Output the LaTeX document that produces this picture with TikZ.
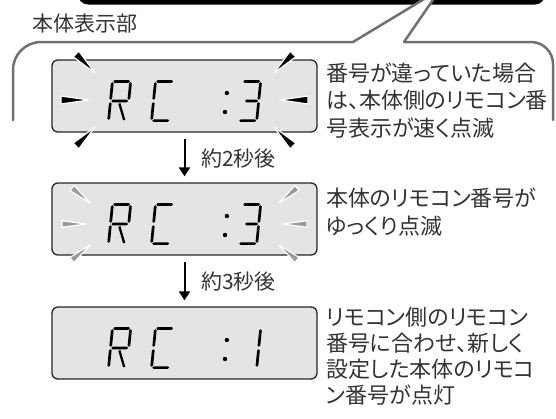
\documentclass[tikz,border=0pt]{standalone}
\usepackage{fontspec}
\newfontfamily\jpfont{Noto Sans CJK JP}
\newfontfamily\jppfont[RawFeature=+palt]{Noto Sans CJK JP}
\usetikzlibrary{arrows.meta,calc}
\definecolor{txt}{HTML}{333333}
\definecolor{lcd}{HTML}{E4E4E4}
\definecolor{bub}{HTML}{707070}
\definecolor{dim}{HTML}{9A9A9A}
\def\sh{1.35}
% horizontal segment: x0 ybot u1 u2 v
\newcommand\lcdh[5]{%
 \fill ({#1+#3+0.1*(#5)},{#2-(#5)}) -- ({#1+#3+\sh+0.1*(#5+\sh)},{#2-(#5)-\sh}) -- ({#1+#4-\sh+0.1*(#5+\sh)},{#2-(#5)-\sh}) -- ({#1+#4+0.1*(#5)},{#2-(#5)}) -- ({#1+#4-\sh+0.1*(#5-\sh)},{#2-(#5)+\sh}) -- ({#1+#3+\sh+0.1*(#5-\sh)},{#2-(#5)+\sh}) -- cycle;}
% vertical segment: x0 ybot u v1 v2
\newcommand\lcdv[5]{%
 \fill ({#1+#3+0.1*(#4)},{#2-(#4)}) -- ({#1+#3+\sh+0.1*(#4+\sh)},{#2-(#4)-\sh}) -- ({#1+#3+\sh+0.1*(#5-\sh)},{#2-(#5)+\sh}) -- ({#1+#3+0.1*(#5)},{#2-(#5)}) -- ({#1+#3-\sh+0.1*(#5-\sh)},{#2-(#5)+\sh}) -- ({#1+#3-\sh+0.1*(#4+\sh)},{#2-(#4)-\sh}) -- cycle;}
\newcommand\digR[2]{%
 \lcdh{#1}{#2}{2.2}{19}{40.6}%
 \lcdv{#1}{#2}{19.6}{22.2}{39.8}%
 \lcdv{#1}{#2}{1.4}{22.2}{39.8}%
 \lcdv{#1}{#2}{1.4}{2.2}{19.8}%
 \lcdh{#1}{#2}{2.2}{19}{21}%
 \draw[line width=2.3pt] ({#1+10.5+0.1*18.5},{#2-18.5}) -- ({#1+17+0.1*2},{#2-2});}
\newcommand\digC[2]{%
 \lcdh{#1}{#2}{2.2}{19}{40.6}%
 \lcdv{#1}{#2}{1.4}{22.2}{39.8}%
 \lcdv{#1}{#2}{1.4}{2.2}{19.8}%
 \lcdh{#1}{#2}{2.2}{19}{1.4}}
\newcommand\digThree[2]{%
 \lcdh{#1}{#2}{2.2}{19}{40.6}%
 \lcdv{#1}{#2}{19.6}{22.2}{39.8}%
 \lcdv{#1}{#2}{19.6}{2.2}{19.8}%
 \lcdh{#1}{#2}{6}{19}{21}%
 \lcdh{#1}{#2}{2.2}{19}{1.4}}
\newcommand\digOne[2]{%
 \lcdv{#1}{#2}{19.6}{22.2}{39.8}%
 \lcdv{#1}{#2}{19.6}{2.2}{19.8}}
\newcommand\lcdcolon[2]{%
 \fill ({#1+0.1*29},{#2-29}) circle[radius=2.2pt];
 \fill ({#1+0.1*10},{#2-10}) circle[radius=2.2pt];}
% flash wedge: outer x,y inner x,y colour halfwidth
\newcommand\wmark[6]{%
 \filldraw[fill=#5, draw=white, line width=1.2pt, line join=round]
 ($(#1,#2)!#6!90:(#3,#4)$) -- ($(#1,#2)!#6!-90:(#3,#4)$) -- (#3,#4) -- cycle;}
\tikzset{
 lcdbox/.style={draw=black!85, line width=1.3pt, fill=lcd, rounded corners=6pt,
   minimum width=265pt, minimum height=72pt, inner sep=0pt},
 bubline/.style={draw=bub, line width=2.5pt, line cap=round},
 jtext/.style={font=\jpfont\fontsize{21}{25}\selectfont, text=txt, inner sep=0pt},
 rtext/.style={font=\jppfont\fontsize{22}{27}\selectfont, text=txt, inner sep=0pt, anchor=west},
 stepArrow/.style={draw=black, line width=2pt, -{Triangle[width=11pt,length=9pt]}, shorten <=6pt, shorten >=6pt}
}
\begin{document}
\begin{tikzpicture}[x=1pt,y=-1pt]
\useasboundingbox (0,0) rectangle (556,418);
\clip (0,0) rectangle (556,418);
% top black bar
\fill[black, rounded corners=10pt] (78,-40) rectangle (545,4.5);
% pointer interior
\fill[white] (353,42) -- (432.5,-6) -- (437,-6) -- (404,42) -- cycle;
% bubble outline
\draw[bubline, rounded corners=28pt] (13,120) -- (13,42) -- (353,42);
\draw[bubline] (353,42) -- (432.5,-6);
\draw[bubline] (437,-6) -- (404,42);
\draw[bubline, rounded corners=22pt] (404,42) -- (553,42) -- (553,120);
\node[jtext, anchor=west] (title) at (32,24) {本体表示部};
% displays
\node[lcdbox] (d1) at (184.5,96) {};
\node[lcdbox] (d2) at (184.5,219) {};
\node[lcdbox] (d3) at (184.5,343) {};
% display 1 contents (top 60)
\digR{107}{122}\digC{150}{122}\lcdcolon{224}{122}\digThree{237}{122}
\wmark{76}{54}{95}{73}{black}{4pt}
\wmark{61}{100}{89}{100}{black}{4pt}
\wmark{76}{146}{95}{127}{black}{4pt}
\wmark{293}{54}{274}{73}{black}{4pt}
\wmark{308}{100}{280}{100}{black}{4pt}
\wmark{293}{146}{274}{127}{black}{4pt}
% display 2 contents (top 183)
\digR{107}{245}\digC{150}{245}\lcdcolon{224}{245}\digThree{237}{245}
\wmark{72}{188}{90}{203}{dim}{3.3pt}
\wmark{62}{224}{86}{224}{dim}{3.3pt}
\wmark{72}{260}{90}{245}{dim}{3.3pt}
\wmark{297}{188}{279}{203}{dim}{3.3pt}
\wmark{307}{224}{283}{224}{dim}{3.3pt}
\wmark{297}{260}{279}{245}{dim}{3.3pt}
% display 3 contents (top 307)
\digR{107}{369}\digC{150}{369}\lcdcolon{224}{369}\digOne{237}{369}
% arrows
\draw[stepArrow] (d1.south) -- (d2.north);
\draw[stepArrow] (d2.south) -- (d3.north);
\node[jtext, anchor=west] (t1) at (201,159) {約2秒後};
\node[jtext, anchor=west] (t2) at (201,282) {約3秒後};
% right texts
\node[rtext] (a1) at (326,73) {番号が違っていた場合};
\node[rtext] (a2) at (326,100.5) {は、本体側のリモコン番};
\node[rtext] (a3) at (326,128) {号表示が速く点滅};
\node[rtext] (b1) at (326,198) {本体のリモコン番号が};
\node[rtext] (b2) at (326,226) {ゆっくり点滅};
\node[rtext] (c1) at (326,317) {リモコン側のリモコン};
\node[rtext] (c2) at (326,343) {番号に合わせ、新しく};
\node[rtext] (c3) at (326,369) {設定した本体のリモコ};
\node[rtext] (c4) at (326,395) {ン番号が点灯};
\end{tikzpicture}
\end{document}
